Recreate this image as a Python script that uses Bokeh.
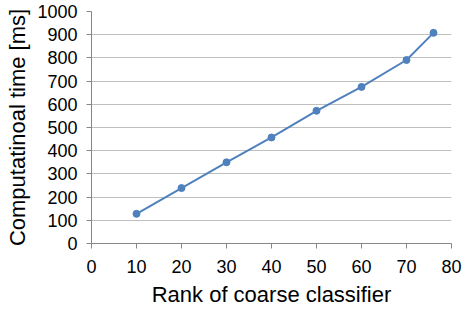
from bokeh.plotting import figure
from bokeh.embed import file_html
from bokeh.resources import INLINE
from bokeh.models import Range1d, FixedTicker

rank = [10, 20, 30, 40, 50, 60, 70, 76]
time_ms = [128, 239, 350, 457, 572, 675, 791, 908]
x_ticks = [0, 10, 20, 30, 40, 50, 60, 70, 80]
y_ticks = [0, 100, 200, 300, 400, 500, 600, 700, 800, 900, 1000]

p = figure(width=462, height=309, output_backend="svg", toolbar_location=None,
           x_range=Range1d(0, 80), y_range=Range1d(0, 1000),
           min_border_left=91, min_border_right=11, min_border_top=11, min_border_bottom=64)
p.outline_line_color = None
p.background_fill_color = "white"
p.border_fill_color = "white"

line_color = "#4F81BD"
p.line(rank, time_ms, line_color=line_color, line_width=2)
p.scatter(rank, time_ms, size=7, fill_color=line_color, line_color=line_color)

p.xgrid.grid_line_color = None
p.ygrid.grid_line_color = "#BFBFBF"
p.ygrid.grid_line_width = 1

for ax in (p.xaxis[0], p.yaxis[0]):
    ax.axis_line_color = "#868686"
    ax.major_tick_line_color = "#868686"
    ax.minor_tick_line_color = None
    ax.major_tick_in = 0
    ax.major_tick_out = 5
    ax.major_label_text_font = "Liberation Sans"
    ax.major_label_text_font_size = "18px"
    ax.major_label_text_color = "#000000"
    ax.axis_label_text_font = "Liberation Sans"
    ax.axis_label_text_font_size = "22px"
    ax.axis_label_text_font_style = "normal"
    ax.axis_label_text_color = "#000000"

p.xaxis.ticker = FixedTicker(ticks=x_ticks)
p.yaxis.ticker = FixedTicker(ticks=y_ticks)
p.xaxis.axis_label = "Rank of coarse classifier"
p.yaxis.axis_label = "Computatinoal time [ms]"
p.xaxis.major_label_standoff = 11
p.yaxis.major_label_standoff = 9
p.xaxis.axis_label_standoff = 6
p.yaxis.axis_label_standoff = 4

open("out.html", "w").write(file_html(p, INLINE))
